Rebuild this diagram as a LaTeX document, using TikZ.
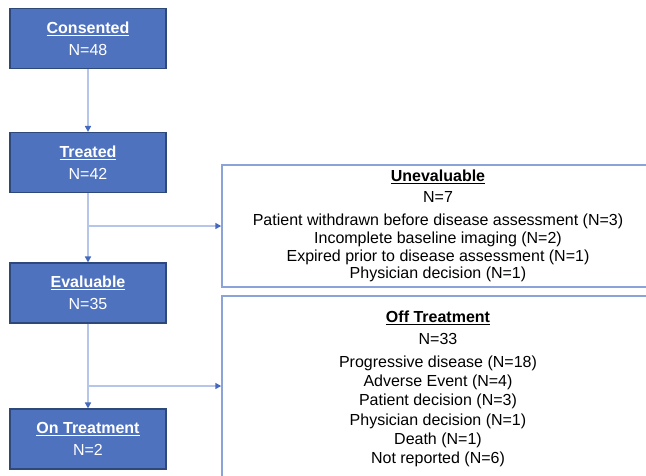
\documentclass[tikz,border=0pt]{standalone}
\usepackage{fontspec}
\setmainfont{Liberation Sans}
\usetikzlibrary{arrows.meta}

\definecolor{boxblue}{RGB}{79,114,190}
\definecolor{boxedge}{RGB}{47,72,122}
\definecolor{lineblue}{RGB}{182,197,234}
\definecolor{tipblue}{RGB}{68,104,190}
\definecolor{frameblue}{RGB}{140,163,215}

\tikzset{
  flowbox/.style={draw=boxedge, line width=0.8pt, fill=boxblue, text=white, align=center,
    minimum width=117pt, minimum height=45pt, inner sep=0pt,
    font=\fontsize{12}{16.5}\selectfont},
  reasonbox/.style={draw=frameblue, line width=1.1pt, fill=white, align=center,
    minimum width=324pt, inner sep=0pt},
  flowline/.style={draw=lineblue, line width=1.1pt,
    -{Triangle[length=4.5pt,width=4.5pt,color=tipblue]}}
}

\begin{document}
\begin{tikzpicture}[x=0.75pt,y=-0.75pt]
\useasboundingbox (0,0) rectangle (646,475);
\clip (0,0) rectangle (646,475);

\node[flowbox] (consented) at (88,38.5) {\underline{\textbf{Consented}}\\N=48};
\node[flowbox] (treated) at (88,162.5) {\underline{\textbf{Treated}}\\N=42};
\node[flowbox] (evaluable) at (88,293) {\underline{\textbf{Evaluable}}\\N=35};
\node[flowbox] (ontreatment) at (88,439) {\underline{\textbf{On Treatment}}\\N=2};

\node[reasonbox, minimum height=91.5pt, font=\fontsize{12}{13.2}\selectfont] (unevaluable) at (438,226)
  {\underline{\textbf{Unevaluable}}\\[2.5pt]
   N=7\\[4.4pt]
   Patient withdrawn before disease assessment (N=3)\\
   Incomplete baseline imaging (N=2)\\
   Expired prior to disease assessment (N=1)\\
   Physician decision (N=1)};

\node[reasonbox, minimum height=139.5pt, font=\fontsize{12}{14.5}\selectfont] (offtreatment) at (438,389)
  {\underline{\textbf{Off Treatment}}\\[2pt]
   N=33\\[2.75pt]
   Progressive disease (N=18)\\
   Adverse Event (N=4)\\
   Patient decision (N=3)\\
   Physician decision (N=1)\\
   Death (N=1)\\
   Not reported (N=6)};

\coordinate (split1) at (88,226);
\coordinate (split2) at (88,386);

\draw[flowline] (consented) -- (treated);
\draw[flowline] (treated) -- (evaluable);
\draw[flowline] (split1) -- (unevaluable.west);
\draw[flowline] (evaluable) -- (ontreatment);
\draw[flowline] (split2) -- (offtreatment.west |- split2);
\end{tikzpicture}
\end{document}
